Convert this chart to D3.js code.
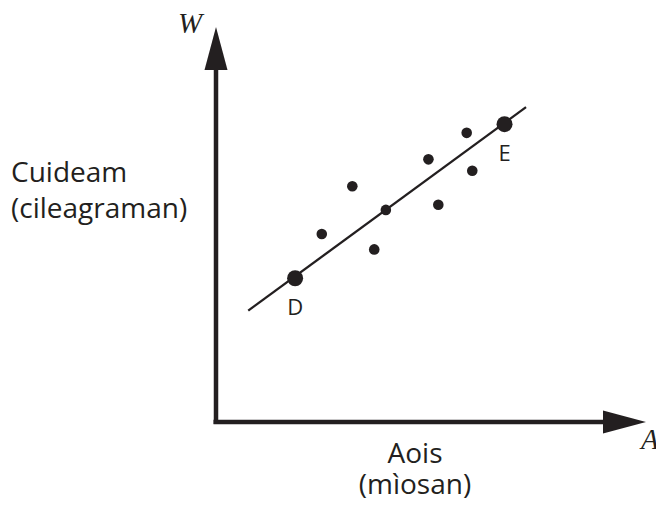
<!DOCTYPE html>
<html lang="gd">
<head>
  <meta charset="UTF-8"/>
  <title>Cuideam agus aois</title>
  <style>
    body { margin: 0; background: #fff; }
    .lbl { font-family: "Open Sans", sans-serif; font-size: 28px; fill: #231f20; }
    .var { font-family: "Liberation Serif", serif; font-style: italic; font-size: 29px; fill: #231f20; }
  </style>
</head>
<body>
<svg id="chart" width="656" height="507"></svg>

<script src="https://cdn.jsdelivr.net/npm/d3@7"></script>
<script>
// values (arbitrary units, axis origin = 0,0)
var pointX = [24.6, 31.7, 39.5, 36.8, 49.4, 51.7, 58.3, 59.6];
var pointY = [47.6, 59.7, 53.7, 43.7, 66.5, 55.0, 73.2, 63.6];
var markNames = ["D", "E"];
var markX = [18.4, 67.1];
var markY = [36.4, 75.4];
var fitX = [7.5, 72.1];
var fitY = [28.2, 79.7];

var ink = "#231f20";
var svg = d3.select("#chart");

// origin at (216, 422), arrow tips at x=646 / y=27
var x = d3.scaleLinear().domain([0, 100]).range([216, 646]);
var y = d3.scaleLinear().domain([0, 100]).range([422, 27]);

var headLen = 43, headHalf = 11.5;

// axes: plain lines, no ticks
var xAxis = d3.axisBottom(x).tickValues([]).tickSizeOuter(0);
var yAxis = d3.axisLeft(y).tickValues([]).tickSizeOuter(0);

svg.append("g").attr("transform", "translate(0," + y(0) + ")").call(xAxis)
  .select(".domain").attr("d", "M" + (x(0) - 2.5) + ",0H" + (x(100) - headLen + 2))
  .attr("stroke", ink).attr("stroke-width", 4.5);
svg.append("g").attr("transform", "translate(" + x(0) + ",0)").call(yAxis)
  .select(".domain").attr("d", "M0," + (y(0) + 2) + "V" + (y(100) + headLen - 2))
  .attr("stroke", ink).attr("stroke-width", 4.5);

// arrow heads
svg.append("path")
  .attr("d", "M" + x(100) + "," + y(0) + "L" + (x(100) - headLen) + "," + (y(0) - headHalf) +
             "L" + (x(100) - headLen) + "," + (y(0) + headHalf) + "Z")
  .attr("fill", ink);
svg.append("path")
  .attr("d", "M" + x(0) + "," + y(100) + "L" + (x(0) - headHalf) + "," + (y(100) + headLen) +
             "L" + (x(0) + headHalf) + "," + (y(100) + headLen) + "Z")
  .attr("fill", ink);

// line of best fit
svg.append("path")
  .datum(d3.zip(fitX, fitY))
  .attr("d", d3.line().x(function(d) { return x(d[0]); }).y(function(d) { return y(d[1]); }))
  .attr("stroke", ink).attr("stroke-width", 2.3).attr("fill", "none");

// scattered points
svg.selectAll("circle.pt")
  .data(d3.zip(pointX, pointY))
  .enter().append("circle")
    .attr("class", "pt")
    .attr("cx", function(d) { return x(d[0]); })
    .attr("cy", function(d) { return y(d[1]); })
    .attr("r", 5.3)
    .attr("fill", ink);

// D and E
var marks = markNames.map(function(n, i) { return {n: n, x: markX[i], y: markY[i]}; });
svg.selectAll("circle.mk")
  .data(marks)
  .enter().append("circle")
    .attr("class", "mk")
    .attr("cx", function(d) { return x(d.x); })
    .attr("cy", function(d) { return y(d.y); })
    .attr("r", 8)
    .attr("fill", ink);
svg.selectAll("text.mk")
  .data(marks)
  .enter().append("text")
    .attr("class", "lbl")
    .attr("x", function(d) { return x(d.x); })
    .attr("y", function(d) { return y(d.y) + 37; })
    .attr("text-anchor", "middle")
    .style("font-size", "22px")
    .text(function(d) { return d.n; });

// axis titles
svg.append("text").attr("class", "var").attr("x", 178).attr("y", 33).text("W");
svg.append("text").attr("class", "var").attr("x", 641).attr("y", 449).text("A");

var yt = svg.append("text").attr("class", "lbl");
yt.append("tspan").attr("x", 11).attr("y", 182).text("Cuideam");
yt.append("tspan").attr("x", 11).attr("y", 218).text("(cileagraman)");

var xt = svg.append("text").attr("class", "lbl").attr("text-anchor", "middle");
xt.append("tspan").attr("x", 415).attr("y", 463).text("Aois");
xt.append("tspan").attr("x", 415).attr("y", 494).text("(mìosan)");
</script>
</body>
</html>
